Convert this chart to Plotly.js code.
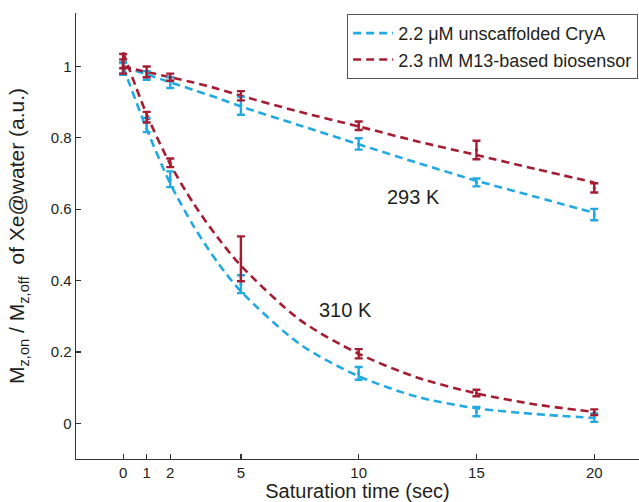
<!DOCTYPE html>
<html>
<head>
<meta charset="utf-8">
<script src="https://cdn.plot.ly/plotly-3.0.1.min.js"></script>
<style>
  html, body { margin: 0; padding: 0; background: #ffffff; }
  #chart { width: 639px; height: 502px; }
</style>
</head>
<body>
<div id="chart"></div>
<script>
// ---- data ----
const timeTicks = [0, 1, 2, 5, 10, 15, 20];
const yTickVals = [0, 0.2, 0.4, 0.6, 0.8, 1];
const yTickText = ['0', '0.2', '0.4', '0.6', '0.8', '1'];

// measured points (error bars)
const measTime = [0, 1, 2, 5, 10, 15, 20];
const cryA293 = [0.995, 0.975, 0.955, 0.890, 0.783, 0.675, 0.585];
const cryA293Err = [0.015, 0.012, 0.015, 0.025, 0.016, 0.011, 0.016];
const m13_293 = [1.000, 0.985, 0.970, 0.918, 0.834, 0.766, 0.660];
const m13_293Err = [0.020, 0.015, 0.010, 0.013, 0.012, 0.026, 0.013];
const cryA310 = [0.995, 0.836, 0.684, 0.390, 0.140, 0.033, 0.016];
const cryA310Err = [0.018, 0.020, 0.022, 0.025, 0.018, 0.013, 0.012];
const m13_310 = [1.015, 0.858, 0.730, 0.461, 0.195, 0.085, 0.031];
const m13_310Err = [0.020, 0.015, 0.012, 0.063, 0.013, 0.009, 0.008];

// fitted curves (dashed)
const fitTime = [0, 1, 2, 3, 4, 5, 7.5, 10, 12.5, 15, 17.5, 20];
const fitCryA293 = [1.000, 0.978, 0.956, 0.934, 0.912, 0.888, 0.835, 0.782, 0.730, 0.680, 0.635, 0.590];
const fitM13_293 = [1.000, 0.985, 0.970, 0.955, 0.938, 0.918, 0.873, 0.832, 0.790, 0.752, 0.713, 0.675];
const fitCryA310 = [1.000, 0.825, 0.672, 0.552, 0.452, 0.370, 0.222, 0.132, 0.074, 0.042, 0.026, 0.015];
const fitM13_310 = [1.040, 0.866, 0.726, 0.615, 0.522, 0.442, 0.290, 0.195, 0.128, 0.084, 0.053, 0.032];

const seriesNames = ['2.2 \u03bcM unscaffolded CryA', '2.3 nM M13-based biosensor'];
const tempLabels = ['293 K', '310 K'];

// ---- styling ----
const BLUE = '#22a9e1';
const RED = '#a51d33';
const TXT = '#231f20';
const FONT = 'Liberation Sans, Arial, Helvetica, sans-serif';
const DASH = '8px,5px';

function fitTrace(y, color, name, show) {
  return {
    x: fitTime, y: y, type: 'scatter', mode: 'lines',
    line: {color: color, width: 2.6, dash: DASH, shape: 'spline', smoothing: 0.8},
    name: name, legendgroup: name, showlegend: show, hoverinfo: 'skip'
  };
}
function barTrace(y, err, color, name) {
  return {
    x: measTime, y: y, type: 'scatter', mode: 'markers',
    marker: {color: color, size: 3},
    error_y: {type: 'data', array: err, visible: true, color: color, thickness: 2.4, width: 4},
    name: name, legendgroup: name, showlegend: false
  };
}

const traces = [
  fitTrace(fitCryA293, BLUE, seriesNames[0], true),
  fitTrace(fitM13_293, RED, seriesNames[1], true),
  fitTrace(fitCryA310, BLUE, seriesNames[0], false),
  fitTrace(fitM13_310, RED, seriesNames[1], false),
  barTrace(cryA293, cryA293Err, BLUE, seriesNames[0]),
  barTrace(cryA310, cryA310Err, BLUE, seriesNames[0]),
  barTrace(m13_293, m13_293Err, RED, seriesNames[1]),
  barTrace(m13_310, m13_310Err, RED, seriesNames[1])
];

const layout = {
  width: 639, height: 502,
  margin: {l: 76, r: 0, t: 13, b: 43, pad: 0},
  paper_bgcolor: '#ffffff', plot_bgcolor: '#ffffff',
  font: {family: FONT, color: TXT, size: 15},
  showlegend: true,
  legend: {
    x: 0.4816, y: 0.998, xanchor: 'left', yanchor: 'top',
    bordercolor: '#555555', borderwidth: 1, bgcolor: '#ffffff',
    font: {family: FONT, size: 18, color: TXT},
    itemwidth: 40, tracegroupgap: 0
  },
  xaxis: {
    range: [-2, 21.9], tickmode: 'array', tickvals: timeTicks,
    ticks: 'inside', ticklen: 5, tickwidth: 1.2, tickcolor: '#333333',
    showline: true, linecolor: '#333333', linewidth: 1.3,
    showgrid: false, zeroline: false, mirror: false,
    tickfont: {family: FONT, size: 15, color: TXT},
    title: {text: 'Saturation time (sec)', font: {family: FONT, size: 20, color: TXT}, standoff: 4},
    automargin: false
  },
  yaxis: {
    range: [-0.1, 1.15], tickmode: 'array', tickvals: yTickVals, ticktext: yTickText,
    ticks: 'inside', ticklen: 5, tickwidth: 1.2, tickcolor: '#333333',
    showline: true, linecolor: '#333333', linewidth: 1.3,
    showgrid: false, zeroline: false, mirror: false,
    tickfont: {family: FONT, size: 15, color: TXT},
    title: {text: 'M<sub>z,on</sub> / M<sub>z,off</sub>  of Xe@water (a.u.)', font: {family: FONT, size: 21, color: TXT}, standoff: 20},
    automargin: false
  },
  annotations: [
    {x: 12.32, y: 0.633, xref: 'x', yref: 'y', text: tempLabels[0], showarrow: false,
     font: {family: FONT, size: 20, color: TXT}, xanchor: 'center', yanchor: 'middle'},
    {x: 9.45, y: 0.318, xref: 'x', yref: 'y', text: tempLabels[1], showarrow: false,
     font: {family: FONT, size: 20, color: TXT}, xanchor: 'center', yanchor: 'middle'}
  ]
};

Plotly.newPlot('chart', traces, layout, {displayModeBar: false, staticPlot: true});
</script>
</body>
</html>
